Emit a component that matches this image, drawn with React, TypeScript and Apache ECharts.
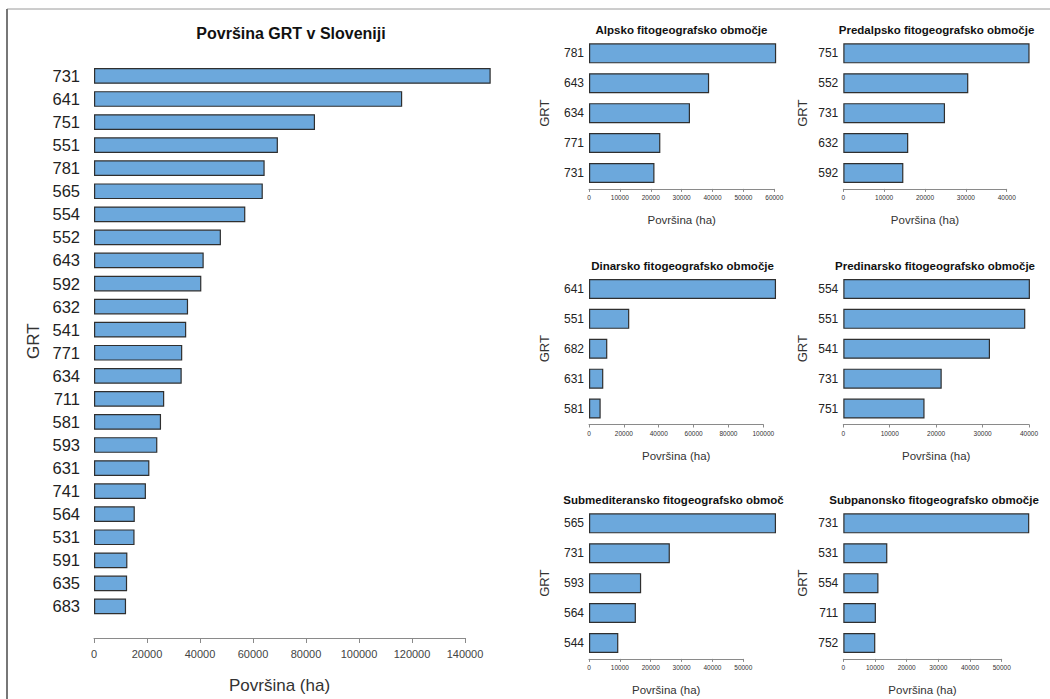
import React, { useEffect, useRef } from "react";
import * as echarts from "echarts";

// Površina GRT v Sloveniji – all types
const mainCategories = ["731", "641", "751", "551", "781", "565", "554", "552", "643", "592", "632", "541", "771", "634", "711", "581", "593", "631", "741", "564", "531", "591", "635", "683"];
const mainValues = [149700, 116300, 83400, 69400, 64400, 63700, 57100, 47900, 41400, 40500, 35500, 34800, 33300, 33100, 26500, 25300, 23900, 20900, 19600, 15400, 15300, 12600, 12500, 12100];

// Phytogeographic regions – top five types each
const alpskoCategories = ["781", "643", "634", "771", "731"];
const alpskoValues = [60600, 38900, 32700, 23100, 21200];

const predalpskoCategories = ["751", "552", "731", "632", "592"];
const predalpskoValues = [45600, 30600, 24900, 15900, 14700];

const dinarskoCategories = ["641", "551", "682", "631", "581"];
const dinarskoValues = [107300, 23100, 10500, 8200, 6700];

const predinarskoCategories = ["554", "551", "541", "731", "751"];
const predinarskoValues = [40200, 39200, 31600, 21200, 17500];

const submediteranskoCategories = ["565", "731", "593", "564", "544"];
const submediteranskoValues = [60600, 26200, 16900, 15200, 9500];

const subpanonskoCategories = ["731", "531", "554", "711", "752"];
const subpanonskoValues = [58700, 13900, 11100, 10300, 10100];

const mainTitle = "Površina GRT v Sloveniji";
const xName = "Površina (ha)";
const yName = "GRT";

const FONT = "'Liberation Sans', Arial, sans-serif";
const BAR_FILL = "#6ca8dc";
const BAR_EDGE = "#2f2f2f";
const AXIS_GRAY = "#8a8a8a";

type Panel = {
  title: string;
  cats: string[];
  vals: number[];
  max: number;
  interval: number;
  left: number;
  width: number;
  top: number;
  nameGapY: number;
  titleX: number;
  clipTitle?: boolean;
};

const panels: Panel[] = [
  { title: "Alpsko fitogeografsko območje", cats: alpskoCategories, vals: alpskoValues, max: 60000, interval: 10000, left: 589, width: 185.3, top: 38.4, nameGapY: 38, titleX: 681.5 },
  { title: "Predalpsko fitogeografsko območje", cats: predalpskoCategories, vals: predalpskoValues, max: 40000, interval: 10000, left: 843.3, width: 163.4, top: 38.4, nameGapY: 34, titleX: 936.5 },
  { title: "Dinarsko fitogeografsko območje", cats: dinarskoCategories, vals: dinarskoValues, max: 100000, interval: 20000, left: 589, width: 174.3, top: 274, nameGapY: 38, titleX: 682.5 },
  { title: "Predinarsko fitogeografsko območje", cats: predinarskoCategories, vals: predinarskoValues, max: 40000, interval: 10000, left: 843.3, width: 185.7, top: 274, nameGapY: 34, titleX: 935 },
  { title: "Submediteransko fitogeografsko območje", cats: submediteranskoCategories, vals: submediteranskoValues, max: 50000, interval: 10000, left: 589, width: 154.3, top: 508.4, nameGapY: 38, titleX: 563.3, clipTitle: true },
  { title: "Subpanonsko fitogeografsko območje", cats: subpanonskoCategories, vals: subpanonskoValues, max: 50000, interval: 10000, left: 843.3, width: 158.4, top: 508.4, nameGapY: 34, titleX: 934 },
];

const plain = (v: number) => String(v);

function buildOption() {
  const grid: any[] = [];
  const xAxis: any[] = [];
  const yAxis: any[] = [];
  const series: any[] = [];
  const graphic: any[] = [];

  // outer frame
  graphic.push({ type: "line", shape: { x1: 7, y1: 9, x2: 1050, y2: 9 }, style: { stroke: "#9a9a9a", lineWidth: 1 } });
  graphic.push({ type: "line", shape: { x1: 7, y1: 9, x2: 7, y2: 699 }, style: { stroke: "#777", lineWidth: 2 } });

  // main panel
  grid.push({ left: 94, top: 64.4, width: 371, height: 557.2 });
  xAxis.push({
    type: "value", gridIndex: 0, min: 0, max: 140000, interval: 20000, position: "bottom", offset: 20,
    axisLine: { show: true, lineStyle: { color: AXIS_GRAY, width: 1 } },
    axisTick: { show: true, length: 5, lineStyle: { color: AXIS_GRAY } },
    splitLine: { show: false },
    axisLabel: { fontSize: 11, color: "#444", margin: 10, fontFamily: FONT, formatter: plain },
    name: xName, nameLocation: "middle", nameGap: 39,
    nameTextStyle: { fontSize: 17, color: "#333", fontFamily: FONT },
  });
  yAxis.push({
    type: "category", gridIndex: 0, data: mainCategories, inverse: true,
    axisLine: { show: false }, axisTick: { show: false }, splitLine: { show: false },
    axisLabel: { fontSize: 16.5, color: "#222", margin: 14, fontFamily: FONT },
    name: yName, nameLocation: "middle", nameGap: 52,
    nameTextStyle: { fontSize: 17, color: "#333", fontFamily: FONT },
  });
  series.push({
    type: "bar", xAxisIndex: 0, yAxisIndex: 0, data: mainValues, clip: false,
    barCategoryGap: "32%",
    itemStyle: { color: BAR_FILL, borderColor: BAR_EDGE, borderWidth: 1.2 },
  });
  graphic.push({
    type: "text", x: 291, y: 33,
    style: { text: mainTitle, font: `bold 16px ${FONT}`, fill: "#111", align: "center", verticalAlign: "middle", textAlign: "center", textVerticalAlign: "middle" },
  });

  // regional panels
  panels.forEach((p, i) => {
    const idx = i + 1;
    grid.push({ left: p.left, top: p.top, width: p.width, height: 149.5 });
    xAxis.push({
      type: "value", gridIndex: idx, min: 0, max: p.max, interval: p.interval, position: "bottom", offset: 1,
      axisLine: { show: true, lineStyle: { color: AXIS_GRAY, width: 1 } },
      axisTick: { show: true, length: 3, lineStyle: { color: AXIS_GRAY } },
      splitLine: { show: false },
      axisLabel: { fontSize: 6.5, color: "#333", margin: 5, fontFamily: FONT, formatter: plain },
      name: xName, nameLocation: "middle", nameGap: 25,
      nameTextStyle: { fontSize: 11.5, color: "#333", fontFamily: FONT },
    });
    yAxis.push({
      type: "category", gridIndex: idx, data: p.cats, inverse: true,
      axisLine: { show: false }, axisTick: { show: false }, splitLine: { show: false },
      axisLabel: { fontSize: 12, color: "#222", margin: 5, fontFamily: FONT },
      name: yName, nameLocation: "middle", nameGap: p.nameGapY,
      nameTextStyle: { fontSize: 13, color: "#333", fontFamily: FONT },
    });
    series.push({
      type: "bar", xAxisIndex: idx, yAxisIndex: idx, data: p.vals, clip: false,
      barCategoryGap: "33%",
      itemStyle: { color: BAR_FILL, borderColor: BAR_EDGE, borderWidth: 1.2 },
    });
    const titleY = p.top - 8.5;
    if (p.clipTitle) {
      graphic.push({
        type: "text", x: p.titleX, y: titleY,
        style: {
          text: p.title, font: `bold 11.5px ${FONT}`, fill: "#111",
          align: "left", verticalAlign: "middle", textAlign: "left", textVerticalAlign: "middle",
          width: 790 - p.titleX, overflow: "truncate", ellipsis: "",
        },
      });
    } else {
      graphic.push({
        type: "text", x: p.titleX, y: titleY,
        style: { text: p.title, font: `bold 11.5px ${FONT}`, fill: "#111", align: "center", verticalAlign: "middle", textAlign: "center", textVerticalAlign: "middle" },
      });
    }
  });

  return {
    animation: false,
    backgroundColor: "#ffffff",
    textStyle: { fontFamily: FONT },
    grid, xAxis, yAxis, series, graphic,
  };
}

export default function App() {
  const ref = useRef<HTMLDivElement>(null);
  useEffect(() => {
    document.body.style.margin = "0";
    if (!ref.current) return;
    const chart = echarts.init(ref.current, undefined, { renderer: "svg" });
    chart.setOption(buildOption() as any);
    return () => chart.dispose();
  }, []);
  return <div ref={ref} style={{ width: 1050, height: 699 }} />;
}
